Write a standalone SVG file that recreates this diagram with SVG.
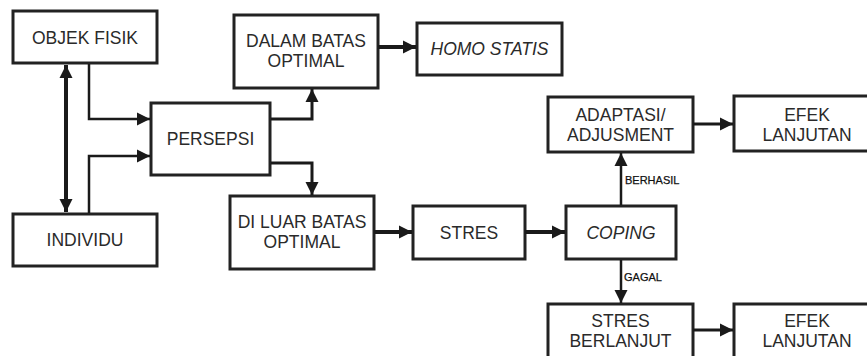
<svg xmlns="http://www.w3.org/2000/svg" width="867" height="356" viewBox="0 0 867 356">
<style>
.box{fill:#fff;stroke:#222;stroke-width:3}
.t{font-family:"Liberation Sans",Arial,sans-serif;font-size:17.5px;fill:#2a2a2a;text-anchor:middle}
.i{font-style:italic}
.lbl{font-family:"Liberation Sans",Arial,sans-serif;font-size:11px;fill:#111;stroke:#111;stroke-width:0.25}
.thick{fill:none;stroke:#1a1a1a;stroke-width:4}
.mid{fill:none;stroke:#1a1a1a;stroke-width:3}
.thin{fill:none;stroke:#1a1a1a;stroke-width:2.5}
</style>
<defs>
<marker id="ah" markerUnits="userSpaceOnUse" markerWidth="14" markerHeight="14" refX="13" refY="7" orient="auto-start-reverse">
<path d="M0,0.5 L13,7 L0,13.5 Z" fill="#1a1a1a"/>
</marker>
</defs>
<rect width="867" height="356" fill="#fff"/>
<g id="objek"><rect class="box" x="13" y="11" width="144" height="52"/><text class="t" x="85" y="43.5">OBJEK FISIK</text></g>
<g id="individu"><rect class="box" x="13" y="214" width="144" height="52"/><text class="t" x="85" y="246">INDIVIDU</text></g>
<g id="persepsi"><rect class="box" x="151" y="103" width="119" height="72"/><text class="t" x="210.5" y="145">PERSEPSI</text></g>
<g id="dalam"><rect class="box" x="234" y="15" width="144" height="73"/><text class="t" x="306" y="47">DALAM BATAS</text><text class="t" x="306" y="67">OPTIMAL</text></g>
<g id="homo"><rect class="box" x="417" y="23" width="145" height="52"/><text class="t i" x="489.5" y="55">HOMO STATIS</text></g>
<g id="diluar"><rect class="box" x="230" y="196" width="144" height="73"/><text class="t" x="302" y="228">DI LUAR BATAS</text><text class="t" x="302" y="248">OPTIMAL</text></g>
<g id="stres"><rect class="box" x="413" y="206" width="112" height="53"/><text class="t" x="469" y="238.5">STRES</text></g>
<g id="coping"><rect class="box" x="566" y="206" width="110" height="53"/><text class="t i" x="621" y="238.5">COPING</text></g>
<g id="adaptasi"><rect class="box" x="548" y="97" width="145" height="55"/><text class="t" x="620.5" y="121">ADAPTASI/</text><text class="t" x="620.5" y="141">ADJUSMENT</text></g>
<g id="efek1"><rect class="box" x="734" y="96" width="148" height="55"/><text class="t" x="807" y="120.5">EFEK</text><text class="t" x="807" y="141">LANJUTAN</text></g>
<g id="stresberlanjut"><rect class="box" x="548" y="304" width="145" height="60"/><text class="t" x="620.5" y="327">STRES</text><text class="t" x="620.5" y="346.5">BERLANJUT</text></g>
<g id="efek2"><rect class="box" x="734" y="304" width="148" height="60"/><text class="t" x="807" y="327">EFEK</text><text class="t" x="807" y="346.5">LANJUTAN</text></g>
<g id="connectors">
<path class="thick" d="M66,65 V212" marker-start="url(#ah)" marker-end="url(#ah)"/>
<path class="thin" d="M89,64 V119 H150" marker-end="url(#ah)"/>
<path class="thin" d="M89,213 V156 H150" marker-end="url(#ah)"/>
<path class="mid" d="M271,119 H312 V89" marker-end="url(#ah)"/>
<path class="mid" d="M271,163 H312 V195" marker-end="url(#ah)"/>
<path class="thick" d="M378,47 H416" marker-end="url(#ah)"/>
<path class="thick" d="M374,232 H412" marker-end="url(#ah)"/>
<path class="thick" d="M525,232 H565" marker-end="url(#ah)"/>
<path class="thin" d="M621,205 V153" marker-end="url(#ah)"/>
<path class="thin" d="M621,260 V303" marker-end="url(#ah)"/>
<path class="mid" d="M693,124 H733" marker-end="url(#ah)"/>
<path class="mid" d="M693,330 H733" marker-end="url(#ah)"/>
<text class="lbl" x="625" y="184">BERHASIL</text>
<text class="lbl" x="624" y="280.5">GAGAL</text>
</g>
</svg>
